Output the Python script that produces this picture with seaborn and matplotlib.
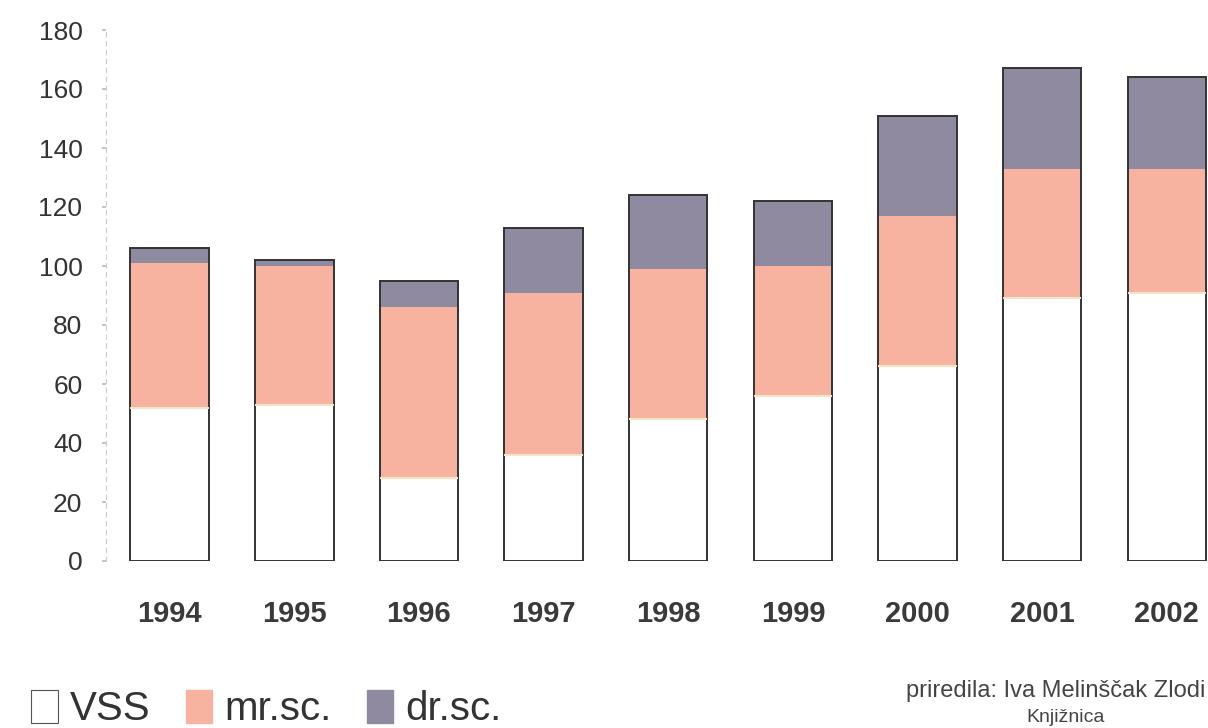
import matplotlib
matplotlib.use("Agg")
import matplotlib.pyplot as plt
import seaborn as sns
import pandas as pd
import numpy as np
from matplotlib.patches import Patch

years = ["1994", "1995", "1996", "1997", "1998", "1999", "2000", "2001", "2002"]
vss = [52, 53, 28, 36, 48, 56, 66, 89, 91]
mr_sc = [49, 47, 58, 55, 51, 44, 51, 44, 42]
dr_sc = [5, 2, 9, 22, 25, 22, 34, 34, 31]
series_names = ["VSS", "mr.sc.", "dr.sc."]
y_ticks = [0, 20, 40, 60, 80, 100, 120, 140, 160, 180]

sns.set_theme(style="white")
plt.rcParams["font.family"] = ["Liberation Sans", "DejaVu Sans"]

df = pd.DataFrame({"year": years, "VSS": vss, "mr": mr_sc, "dr": dr_sc})
df["b2"] = df["VSS"] + df["mr"]
df["total"] = df["b2"] + df["dr"]

fig = plt.figure(figsize=(12.08, 7.28), dpi=100)
ax = fig.add_axes([106 / 1208, 167 / 728, 1 - 106 / 1208, (698 - 167) / 728])

c_vss = "#FFFFFF"
c_mr = "#F7B2A0"
c_dr = "#8F8A9F"
w = 0.63

sns.barplot(data=df, x="year", y="VSS", color=c_vss, width=w, ax=ax,
            saturation=1, linewidth=0)
sns.barplot(data=df, x="year", y="mr", bottom=df["VSS"], color=c_mr, width=w,
            ax=ax, saturation=1, linewidth=0)
sns.barplot(data=df, x="year", y="dr", bottom=df["b2"], color=c_dr, width=w,
            ax=ax, saturation=1, linewidth=0)
# thin pale separator line at VSS top
for i, v in enumerate(df["VSS"]):
    ax.hlines(v, i - w / 2, i + w / 2, color="#EFE6C8", linewidth=1.5, zorder=3)
# outline of full stack
sns.barplot(data=df, x="year", y="total", fill=False, width=w, ax=ax,
            edgecolor="#333333", linewidth=1.4, saturation=1)

ax.set_xlim(-0.51, 8.33)
ax.set_ylim(0, 180)
ax.set_yticks(y_ticks)
ax.set_yticklabels([str(t) for t in y_ticks], fontsize=19, color="#333333")
ax.set_xticks(range(len(years)))
ax.set_xticklabels(years, fontsize=21, fontweight="bold", color="#3a3a3a")
ax.tick_params(axis="x", length=0, pad=28)
ax.tick_params(axis="y", length=3, color="#bbbbbb", pad=14, left=True)
ax.set_xlabel("")
ax.set_ylabel("")
for s in ["top", "right", "bottom"]:
    ax.spines[s].set_visible(False)
ax.spines["left"].set_color("#cccccc")
ax.spines["left"].set_linestyle((0, (4, 4)))
ax.spines["left"].set_linewidth(0.8)

handles = [Patch(facecolor=c_vss, edgecolor="#555555", linewidth=0.8),
           Patch(facecolor=c_mr, edgecolor=c_mr),
           Patch(facecolor=c_dr, edgecolor=c_dr)]
fig.legend(handles, series_names, loc="lower left", bbox_to_anchor=(-0.004, -0.05),
           ncol=3, frameon=False, fontsize=29, handlelength=0.65, handleheight=0.9,
           handletextpad=0.3, columnspacing=0.88, labelcolor="#333333")

fig.text(1205 / 1208, 1 - 691 / 728, "priredila: Iva Melinščak Zlodi", ha="right",
         va="center", fontsize=17, color="#444444")
fig.text(1066 / 1208, 1 - 717 / 728, "Knjižnica", ha="center", va="center",
         fontsize=14, color="#444444")

fig.savefig("out.png", dpi=100)
